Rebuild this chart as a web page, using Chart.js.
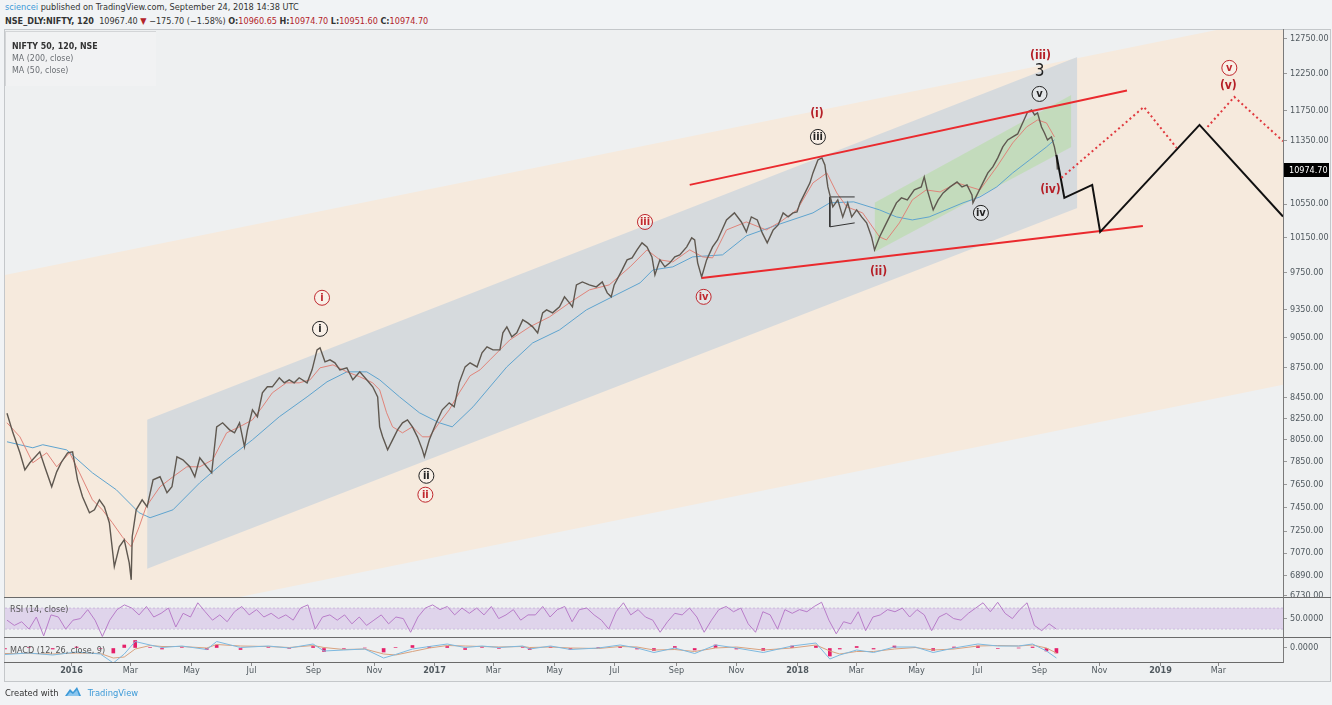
<!DOCTYPE html>
<html>
<head>
<meta charset="utf-8">
<title>NSE_DLY:NIFTY, 120</title>
<script src="https://cdn.jsdelivr.net/npm/chart.js@4.4.1/dist/chart.umd.min.js"></script>
<style>
  html, body { margin:0; padding:0; }
  body { width:1332px; height:705px; position:relative; overflow:hidden; background:#f1f3f5;
         font-family:'DejaVu Sans Condensed','Liberation Sans',sans-serif; color:#333; }
  .abs { position:absolute; }
  .red { color:#b3232a; }
  .blue { color:#3d9ad8; }
  #head1 { left:5px; top:2px; font-size:9.1px; white-space:nowrap; }
  #head2 { left:5px; top:16px; font-size:9px; white-space:nowrap; }
  #pane { left:4px; top:29px; width:1327px; height:653px; border:1px solid #c4c7ca; box-sizing:border-box; background:#eef0f1; }
  #legendBox { left:5px; top:31px; width:150px; height:54px; border-left:1px solid #d3d5d7; border-top:1px solid #d3d5d7;
               background:rgba(244,245,246,0.45); font-size:8.8px; line-height:12px; }
  #legendBox div { padding-left:6px; }
  .sep { position:absolute; height:1px; background:#6a6a6a; }
  .vsep { position:absolute; width:1px; background:#7a7a7a; }
  .paneTitle { font-size:9px; color:#555; white-space:nowrap; }
  #footer { left:5px; top:686px; font-size:9.3px; white-space:nowrap; }
</style>
</head>
<body>
<div class="abs" id="head1"><span class="blue">sciencei</span> published on TradingView.com, September 24, 2018 14:38 UTC</div>
<div class="abs" id="head2"><b>NSE_DLY:NIFTY, 120</b>&nbsp; 10967.40 <span class="red">&#9660;</span> &minus;175.70 (&minus;1.58%) <b>O:</b><span class="red">10960.65</span> <b>H:</b><span class="red">10974.70</span> <b>L:</b><span class="red">10951.60</span> <b>C:</b><span class="red">10974.70</span></div>

<div class="abs" id="pane"></div>

<div class="abs" style="left:5px;top:30px;width:1327px;height:567px"><canvas id="mainChart" width="1327" height="567"></canvas></div>
<div class="abs" style="left:5px;top:597px;width:1327px;height:40px"><canvas id="rsiChart" width="1327" height="40"></canvas></div>
<div class="abs" style="left:5px;top:637px;width:1327px;height:45px"><canvas id="macdChart" width="1327" height="45"></canvas></div>

<div class="abs" id="legendBox">
  <div style="margin-top:8px;font-weight:bold;color:#333">NIFTY 50, 120, NSE</div>
  <div style="color:#6b6f73">MA (200, close)</div>
  <div style="color:#6b6f73">MA (50, close)</div>
</div>

<div class="sep" style="left:4px;top:597px;width:1327px"></div>
<div class="sep" style="left:4px;top:637px;width:1327px"></div>
<div class="sep" style="left:4px;top:662px;width:1280px"></div>
<div class="vsep" style="left:1283px;top:29px;height:634px"></div>

<div class="abs paneTitle" style="left:10px;top:604px">RSI (14, close)</div>
<div class="abs paneTitle" style="left:10px;top:645px">MACD (12, 26, close, 9)</div>

<div class="abs" id="footer">Created with
  <svg width="18" height="11" viewBox="0 0 18 11" style="vertical-align:-1px;margin-left:3px"><path d="M1 10 L6 3 L9 6 L13 1 L17 10 Z" fill="#3d9ad8"/><path d="M3 10 L6 6 L9 8 L13 4 L15 10 Z" fill="#8cc6ee"/></svg>
  <span class="blue" style="margin-left:3px">TradingView</span></div>

<script>
// x values are days counted from 2016-01-01
var X_MIN = -66, X_MAX = 1220;
var Y_MIN = 6722, Y_MAX = 12882;
var FONT = "'DejaVu Sans Condensed','Liberation Sans',sans-serif";

// price (120 min bars, read as a path)
var priceDays = [-64,-58,-51,-46,-41,-31,-26,-19,-14,-9,-3,2,7,12,19,24,29,34,39,44,
  49,54,59,61,62,66,72,77,83,90,97,102,107,113,120,125,130,137,142,147,
  153,160,165,170,175,178,183,188,193,198,203,210,215,220,225,230,238,243,248,251,
  256,261,266,271,278,284,291,298,304,309,311,314,319,324,329,334,339,344,349,354,
  356,361,368,374,381,386,391,397,402,409,414,419,425,432,435,439,444,449,455,460,
  465,470,475,479,485,492,497,502,505,509,515,522,529,535,540,544,547,555,560,565,
  570,575,580,585,588,593,598,603,608,613,620,625,628,631,635,640,646,651,660,668,
  675,680,685,691,696,701,707,712,717,722,727,731,734,739,744,747,752,756,759,762,
  767,772,777,782,786,791,796,801,806,809,814,819,824,831,836,842,849,856,859,862,
  868,873,878,885,892,897,902,907,908,913,918,923,928,933,938,943,948,953,958,963,
  967,970,973,977,980,983,987,990,992,993];
var priceValues = [8300,8115,7931,7778,7841,7940,7805,7628,7760,7850,7931,7940,7689,7541,7404,7429,7515,7455,7320,6960,
  7121,7178,6991,6856,7203,7429,7515,7455,7689,7716,7576,7628,7895,7868,7805,7716,7886,7805,7751,8171,
  8209,8143,8115,8209,7986,8143,8332,8266,8496,8555,8555,8644,8594,8624,8594,8644,8594,8723,8925,8946,
  8804,8824,8794,8723,8743,8624,8703,8624,8555,8457,8171,8078,7958,8050,8143,8209,8237,8171,8078,7958,
  7895,8050,8209,8332,8399,8361,8594,8753,8794,8753,8895,8956,8925,8925,9101,9164,9060,9101,9238,9206,
  9164,9101,9312,9344,9312,9377,9485,9420,9377,9616,9649,9616,9594,9649,9528,9485,9616,9783,9896,9919,
  10010,10091,10045,9930,9727,9896,9817,9862,9930,9953,10045,10149,10125,9862,9705,9896,10045,10125,10360,10444,
  10336,10219,10396,10360,10207,10091,10242,10301,10444,10396,10444,10456,10565,10686,10810,10934,11098,11124,11035,10760,
  10517,10601,10396,10565,10396,10480,10396,10325,10160,10010,10160,10278,10396,10565,10625,10601,10723,10760,10884,10723,
  10480,10601,10686,10760,10822,10760,10784,10661,10565,10686,10810,10934,11010,11124,11265,11356,11395,11434,11579,11726,
  11753,11686,11713,11526,11447,11356,11395,11265,11137,10975];
var lastClose = 10974.70;

// MA (50, close) - red
var ma50Days = [-64,-51,-38,-24,-14,-1,9,22,32,42,52,61,69,76,90,103,117,130,143,157,
  170,183,193,203,217,230,241,251,264,278,291,304,311,318,324,334,344,354,361,371,
  381,391,402,412,422,442,462,482,502,522,542,563,580,593,606,623,636,646,660,680,
  700,714,731,747,761,771,781,797,814,821,834,847,861,875,892,905,915,932,948,962,973,982,990];
var ma50Values = [8209,8078,7841,7931,7805,7931,7751,7515,7429,7320,7203,7121,7286,7455,7628,7716,7805,7805,7868,8115,
  8171,8237,8361,8496,8594,8594,8624,8743,8773,8703,8654,8594,8525,8304,8171,8115,8171,8078,8078,8209,
  8332,8496,8664,8723,8824,9028,9164,9270,9420,9561,9616,9817,10010,9896,9873,10010,9930,9919,10242,10336,
  10242,10336,10480,10810,10934,10686,10517,10444,10160,10125,10325,10601,10723,10698,10810,10760,10723,11010,11317,11526,11619,11579,11395];

// MA (200, close) - blue
var ma200Days = [-64,-38,-28,-4,22,46,69,80,103,130,157,183,210,238,258,278,298,311,331,351,
  371,384,405,439,465,492,519,545,573,586,606,626,656,680,714,747,764,788,814,831,
  847,864,881,898,915,932,948,965,982,990];
var ma200Values = [8032,7977,8005,7958,7751,7602,7404,7362,7429,7663,7868,8050,8266,8457,8604,8703,8703,8624,8457,8304,
  8209,8171,8361,8753,8997,9132,9344,9485,9638,9783,9817,9930,9953,10172,10313,10444,10565,10577,10480,10396,
  10360,10396,10480,10565,10637,10760,10934,11098,11265,11356];

// RSI (14, close), evenly spaced from first to last bar
var rsiFirstDay = -64, rsiLastDay = 992;
var rsiValues = [47,37,44,30,53,17,57,53,30,47,50,67,47,16,47,67,76,70,57,73,
  53,60,70,34,60,53,80,63,47,57,44,63,73,57,67,53,60,50,57,47,
  70,76,30,53,57,47,57,40,53,37,47,57,40,53,50,24,53,70,76,67,
  73,57,70,60,70,57,73,50,57,67,47,57,
  57,73,53,67,73,44,67,70,57,47,30,63,80,57,67,53,47,24,44,60,
  57,70,53,24,47,67,73,63,70,40,24,63,57,30,67,60,67,63,73,81,
  47,21,44,40,63,27,53,57,67,63,70,53,67,57,27,53,60,50,47,60,
  70,80,63,81,60,50,67,80,37,27,40,30];

// MACD (12, 26, close, 9)
var macdDays = [-66,-42,-18,6,30,43,54,65,80,92,112,137,147,171,199,220,244,255,275,296,
  315,327,344,361,379,397,414,431,455,462,483,503,531,553,570,587,608,628,649,670,
  697,726,750,764,774,791,808,829,850,868,889,913,933,954,968,982,992];
var macdValues = [-65,-50,-70,-40,-60,-150,-60,65,30,5,20,-15,65,5,20,0,40,-30,-20,-10,
  -100,-65,-10,15,40,5,20,5,20,-10,20,-15,0,30,0,-45,0,-55,30,0,
  -45,20,50,-110,-70,-20,-45,10,10,-45,0,40,20,20,40,-30,-100];
var signalValues = [-55,-55,-60,-50,-55,-100,-90,-10,25,15,15,0,35,20,15,5,25,5,-15,-10,
  -60,-70,-35,0,25,20,15,10,15,5,10,0,-5,15,10,-20,-15,-35,0,10,
  -20,0,30,-30,-60,-35,-35,-10,5,-20,-10,20,25,20,30,0,-50];
var histValues = [-10,5,-10,10,-5,-50,30,75,5,-10,5,-15,30,-15,5,-5,15,-35,-5,0,
  -40,5,25,15,15,-15,5,-5,5,-15,10,-15,5,15,-10,-25,15,-20,30,-10,
  -25,20,20,-80,-10,15,-10,20,5,-25,10,20,-5,0,10,-30,-50];

// drawn channels (edge end points, day / price)
var outerDays = [-66, 1220];
var outerTop = [9727, 13082];
var outerBottom = [6364, 8575];
var midDays = [77, 1013];
var midTop = [8237, 12490];
var midBottom = [6944, 10503];
var innerDays = [809, 1007];
var innerTop = [10565, 11957];
var innerBottom = [9987, 11265];

// red trend lines
var upperTrendDays = [623, 1063];
var upperTrendPrices = [10785, 12017];
var lowerTrendDays = [635, 1079];
var lowerTrendPrices = [9693, 10289];

// small flag drawn in Feb 2018
var flagDays = [789, 764, 764, 789];
var flagPrices = [10637, 10637, 10278, 10325];

// projected paths
var projDays = [992, 1000, 1028, 1036, 1136, 1220];
var projPrices = [11162, 10625, 10785, 10219, 11553, 10400];
var altDaysA = [997, 1080, 1113];
var altPricesA = [10872, 11794, 11252];
var altDaysB = [1144, 1171, 1220];
var altPricesB = [11526, 11930, 11340];

// wave labels
var waveText = ['i','i','ii','ii','iii','iv','(i)','iii','(ii)','iv','(iii)','3','v','(iv)','v','(v)'];
var waveDays = [253,251,358,357,578,637,751,752,813,916,976,975,975,986,1166,1165];
var wavePrices = [9475,9143,7725,7559,10336,9485,11700,11395,9761,10444,12504,12277,11971,10723,12334,12081];
var waveMarks = ['redRing','ring','ring','redRing','redRing','redRing','paren','ring','paren','ring','paren','big','ring','paren','redRing','paren'];

// axis ticks
var priceTicks = [12750,12250,11750,11350,10550,10150,9750,9350,9050,8750,8450,8250,8050,7850,7650,7450,7250,7070,6890,6730];
var xTickDates = ['2016-01-01','2016-03-01','2016-05-01','2016-07-01','2016-09-01','2016-11-01',
  '2017-01-01','2017-03-01','2017-05-01','2017-07-01','2017-09-01','2017-11-01',
  '2018-01-01','2018-03-01','2018-05-01','2018-07-01','2018-09-01','2018-11-01',
  '2019-01-01','2019-03-01'];
var xTickLabels = ['2016','Mar','May','Jul','Sep','Nov','2017','Mar','May','Jul','Sep','Nov',
  '2018','Mar','May','Jul','Sep','Nov','2019','Mar'];

var DAY0 = Date.parse('2016-01-01');
function toDay(s) { return (Date.parse(s) - DAY0) / 864e5; }
function pts(xs, ys) { return xs.map(function (x, i) { return {x: x, y: ys[i]}; }); }

Chart.defaults.font.family = FONT;
Chart.defaults.font.size = 9;
Chart.defaults.color = '#50595f';

function edge(xs, ys, order, fill, color) {
  return {data: pts(xs, ys), order: order, fill: fill, backgroundColor: color,
          borderColor: 'rgba(0,0,0,0)', borderWidth: 0, pointRadius: 0};
}
function line(xs, ys, order, color, width, dash) {
  return {data: pts(xs, ys), order: order, fill: false, borderColor: color,
          borderWidth: width, borderDash: dash || [], pointRadius: 0, tension: 0};
}

function timeScale() {
  return {type: 'linear', min: X_MIN, max: X_MAX, display: false, offset: false, grid: {offset: false}};
}
function rightAxis(extra) {
  var base = {
    position: 'right',
    afterFit: function (s) { s.width = 49; s.paddingTop = 0; s.paddingBottom = 0; },
    grid: {drawOnChartArea: false, drawTicks: true, tickLength: 4, color: '#9a9a9a'},
    border: {display: false}
  };
  return Object.assign(base, extra);
}
function axisTicks(digits) {
  return {autoSkip: false, padding: 3, color: '#50595f', font: {size: 9},
          callback: function (v) { return Number(v).toFixed(digits); }};
}

var waveLabelPlugin = {
  id: 'waveLabels',
  afterDatasetsDraw: function (chart) {
    var ctx = chart.ctx, x = chart.scales.x, y = chart.scales.y;
    ctx.save();
    ctx.textAlign = 'center';
    ctx.textBaseline = 'middle';
    for (var i = 0; i < waveText.length; i++) {
      var px = x.getPixelForValue(waveDays[i]);
      var py = y.getPixelForValue(wavePrices[i]);
      var m = waveMarks[i];
      if (m === 'ring' || m === 'redRing') {
        var c = m === 'ring' ? '#222' : '#c0282e';
        ctx.beginPath();
        ctx.arc(px, py, 7.5, 0, Math.PI * 2);
        ctx.fillStyle = 'rgba(255,255,255,0.3)';
        ctx.fill();
        ctx.lineWidth = 1;
        ctx.strokeStyle = c;
        ctx.stroke();
        ctx.fillStyle = c;
        ctx.font = 'bold 11px ' + FONT;
        ctx.fillText(waveText[i], px, py + 0.5);
      } else if (m === 'paren') {
        ctx.fillStyle = '#b51f27';
        ctx.font = 'bold 12px ' + FONT;
        ctx.fillText(waveText[i], px, py);
      } else {
        ctx.fillStyle = '#222';
        ctx.font = '17px ' + FONT;
        ctx.fillText(waveText[i], px, py);
      }
    }
    ctx.restore();
  },
  afterDraw: function (chart) {
    // last price badge on the axis
    var ctx = chart.ctx, y = chart.scales.y;
    var py = Math.round(y.getPixelForValue(lastClose));
    var left = chart.chartArea.right + 1;
    ctx.save();
    ctx.fillStyle = '#000';
    ctx.fillRect(left, py - 7, 45, 14);
    ctx.fillStyle = '#fff';
    ctx.font = '9px ' + FONT;
    ctx.textBaseline = 'middle';
    ctx.fillText(lastClose.toFixed(2), left + 5, py + 0.5);
    ctx.restore();
  }
};

// month / year labels under the MACD pane, placed with the x scale
var timeAxisPlugin = {
  id: 'timeAxis',
  afterDraw: function (chart) {
    var ctx = chart.ctx, x = chart.scales.x, bottom = chart.chartArea.bottom;
    ctx.save();
    ctx.strokeStyle = '#8a8a8a';
    ctx.lineWidth = 1;
    ctx.textAlign = 'center';
    ctx.textBaseline = 'middle';
    ctx.fillStyle = '#50595f';
    xTickDates.forEach(function (d, i) {
      var px = Math.round(x.getPixelForValue(toDay(d))) + 0.5;
      ctx.beginPath();
      ctx.moveTo(px, bottom + 1);
      ctx.lineTo(px, bottom + 4);
      ctx.stroke();
      var isYear = /^20/.test(xTickLabels[i]);
      ctx.font = (isYear ? 'bold ' : '') + '9px ' + FONT;
      ctx.fillText(xTickLabels[i], px, bottom + 9);
    });
    ctx.restore();
  }
};

function baseOptions() {
  return {
    responsive: false,
    animation: false,
    devicePixelRatio: 1,
    layout: {padding: 0},
    plugins: {legend: {display: false}, tooltip: {enabled: false}},
    elements: {point: {radius: 0}, line: {tension: 0}}
  };
}

// main price pane
var mainOpts = baseOptions();
mainOpts.scales = {
  x: timeScale(),
  y: rightAxis({
    type: 'logarithmic', min: Y_MIN, max: Y_MAX,
    afterBuildTicks: function (s) { s.ticks = priceTicks.map(function (v) { return {value: v}; }); },
    ticks: axisTicks(2)
  })
};
new Chart(document.getElementById('mainChart'), {
  type: 'line',
  data: {
    datasets: [
      edge(outerDays, outerTop, 30, '+1', '#f6eadd'),
      edge(outerDays, outerBottom, 30, false, 'transparent'),
      edge(midDays, midTop, 29, '+1', '#d6dadd'),
      edge(midDays, midBottom, 29, false, 'transparent'),
      edge(innerDays, innerTop, 28, '+1', 'rgba(180,220,160,0.55)'),
      edge(innerDays, innerBottom, 28, false, 'transparent'),
      line(ma200Days, ma200Values, 20, '#5fa4cf', 1),
      line(ma50Days, ma50Values, 19, '#e0847a', 1),
      line(flagDays, flagPrices, 18, '#333', 1),
      line(priceDays, priceValues, 17, '#5f5850', 1.4),
      line(upperTrendDays, upperTrendPrices, 10, '#ea2a2e', 2),
      line(lowerTrendDays, lowerTrendPrices, 10, '#ea2a2e', 2),
      line(projDays, projPrices, 9, '#111', 2),
      line(altDaysA, altPricesA, 8, '#e0393e', 2, [2, 3]),
      line(altDaysB, altPricesB, 8, '#e0393e', 2, [2, 3])
    ]
  },
  options: mainOpts,
  plugins: [waveLabelPlugin]
});

// RSI pane
var rsiStep = (rsiLastDay - rsiFirstDay) / (rsiValues.length - 1);
var rsiOpts = baseOptions();
rsiOpts.scales = {
  x: timeScale(),
  y: rightAxis({
    min: 15, max: 91,
    afterBuildTicks: function (s) { s.ticks = [{value: 50}]; },
    ticks: axisTicks(4)
  })
};
new Chart(document.getElementById('rsiChart'), {
  type: 'line',
  data: {
    datasets: [
      {data: pts([X_MIN, X_MAX], [70, 70]), order: 5, fill: '+1', backgroundColor: 'rgba(186,140,220,0.28)',
       borderColor: 'rgba(170,140,200,0.45)', borderWidth: 1, borderDash: [2, 2], pointRadius: 0},
      {data: pts([X_MIN, X_MAX], [30, 30]), order: 5, fill: false,
       borderColor: 'rgba(170,140,200,0.45)', borderWidth: 1, borderDash: [2, 2], pointRadius: 0},
      {data: rsiValues.map(function (v, i) { return {x: rsiFirstDay + i * rsiStep, y: v}; }),
       order: 1, fill: false, borderColor: '#b77cc8', borderWidth: 1, pointRadius: 0}
    ]
  },
  options: rsiOpts
});

// MACD pane, the time labels sit in the 20px strip below it
var macdOpts = baseOptions();
macdOpts.layout = {padding: {bottom: 20}};
macdOpts.scales = {
  x: timeScale(),
  y: rightAxis({
    min: -140, max: 110,
    afterBuildTicks: function (s) { s.ticks = [{value: 0}]; },
    ticks: axisTicks(4)
  })
};
new Chart(document.getElementById('macdChart'), {
  type: 'line',
  data: {
    datasets: [
      {type: 'bar', data: pts(macdDays, histValues), order: 3, backgroundColor: '#e5206a', barThickness: 3},
      {data: pts(macdDays, signalValues), order: 2, fill: false, borderColor: '#d9a27e', borderWidth: 1, pointRadius: 0},
      {data: pts(macdDays, macdValues), order: 1, fill: false, borderColor: '#7db9e0', borderWidth: 1, pointRadius: 0}
    ]
  },
  options: macdOpts,
  plugins: [timeAxisPlugin]
});
</script>
</body>
</html>
